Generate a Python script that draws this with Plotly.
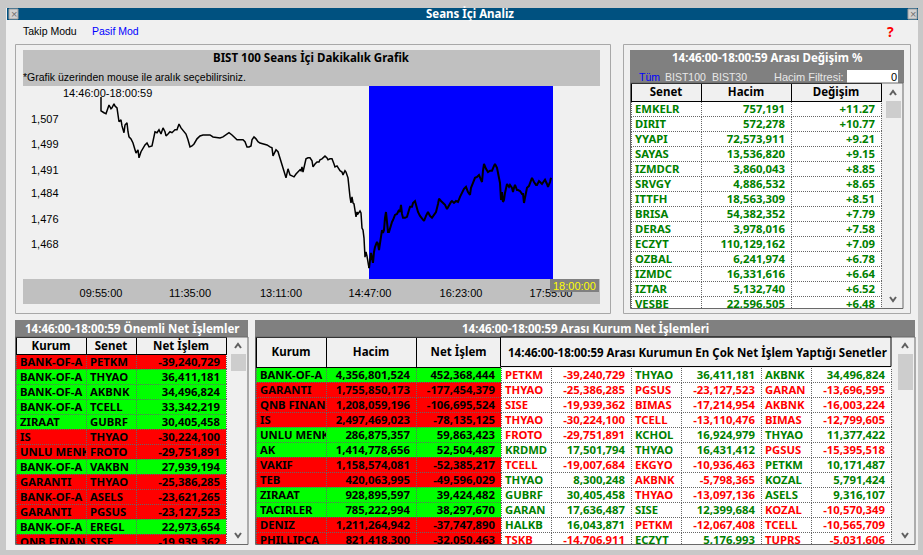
import plotly.graph_objects as go

W, H = 923, 555
SANS = "Liberation Sans"
BOLD = "Noto Sans"

# ---------- chart data ----------
bar_index = [
0,0,3,5,8,10,11,13,14,16,
18,20,21,23,24,26,27,28,30,32,
34,35,37,38,40,42,44,46,48,51,
52,54,56,58,60,62,64,65,67,69,
71,74,76,78,80,82,84,85,87,89,
91,93,96,99,102,106,109,112,116,119,
122,125,128,131,134,136,139,142,144,146,
148,150,151,153,155,157,159,162,166,169,
171,172,174,175,177,179,182,184,185,187,
189,191,193,195,197,199,200,201,202,203,
205,207,209,211,212,214,216,218,219,221,
224,226,227,229,231,233,234,236,238,239,
241,242,244,245,247,248,249,250,251,252,
253,255,256,257,259,260,261,262,263,264,
265,266,267,268,269,270,271,272,273,274,
276,277,278,279,280,281,282,283,284,285,
286,287,288,289,291,292,294,296,298,299,
300,301,302,304,306,308,309,311,312,314,
315,317,319,321,323,325,327,329,331,333,
335,337,338,340,342,344,346,348,350,351,
353,355,357,359,361,363,365,367,369,370,
372,374,376,378,380,381,382,383,385,387,
389,391,393,394,396,397,398,399,400,401,
402,403,404,405,406,408,409,411,412,413,
414,416,417,419,421,422,423,424,425,426,
428,430,431,433,435,436,438,439,441,443,
444,446,447,449,450
]
index_close = [
1513.8,1509.5,1508.9,1508.6,1511.3,1510.1,1510.4,1511.7,1511.0,1510.4,
1506.1,1506.7,1504.8,1502.7,1505.1,1505.8,1503.0,1501.4,1500.8,1499.5,
1497.4,1496.4,1497.4,1494.9,1496.8,1498.0,1498.9,1499.5,1498.3,1498.6,
1500.5,1503.0,1502.7,1503.6,1502.3,1504.2,1503.0,1501.7,1502.3,1503.0,
1502.7,1503.6,1503.6,1505.4,1504.2,1503.3,1502.7,1502.3,1500.5,1498.3,
1498.6,1499.2,1500.8,1501.7,1502.0,1502.0,1502.0,1501.4,1501.1,1501.1,
1501.4,1502.0,1502.7,1502.0,1501.1,1500.5,1500.5,1500.5,1499.9,1498.3,
1498.3,1498.6,1500.5,1501.4,1500.8,1499.9,1499.5,1499.2,1498.9,1498.3,
1498.0,1495.5,1497.1,1497.4,1496.8,1494.9,1492.1,1490.2,1488.7,1491.5,
1489.6,1489.3,1489.0,1489.9,1490.5,1491.2,1490.9,1492.1,1490.5,1491.8,
1494.6,1494.9,1494.9,1494.0,1492.1,1493.0,1493.6,1493.6,1494.3,1494.6,
1495.5,1494.9,1494.3,1494.6,1494.6,1493.0,1492.1,1492.4,1491.5,1490.9,
1490.5,1489.6,1490.9,1490.5,1488.7,1484.9,1482.8,1480.9,1482.8,1480.9,
1480.6,1476.6,1478.1,1477.5,1478.4,1477.8,1473.1,1472.5,1470.0,1464.1,
1465.7,1464.4,1462.6,1460.7,1463.8,1465.4,1463.8,1462.3,1465.7,1467.2,
1468.8,1468.2,1466.3,1468.5,1471.9,1472.5,1471.6,1472.5,1476.3,1478.1,
1475.0,1471.9,1471.9,1473.1,1475.0,1475.6,1477.2,1477.5,1478.7,1478.1,
1480.3,1477.5,1476.3,1476.3,1476.6,1478.7,1479.7,1479.7,1480.9,1481.5,
1480.3,1478.1,1476.9,1476.0,1475.3,1476.9,1478.1,1476.9,1476.3,1477.2,
1478.1,1480.6,1482.2,1481.5,1480.9,1480.3,1479.0,1480.3,1481.2,1481.5,
1480.9,1481.5,1481.2,1482.8,1484.0,1485.3,1485.9,1484.3,1483.4,1485.6,
1487.1,1488.7,1489.0,1489.6,1488.1,1487.4,1490.9,1493.0,1491.5,1490.5,
1490.9,1490.9,1492.4,1493.0,1491.8,1490.5,1489.3,1487.1,1481.8,1484.3,
1481.2,1481.8,1484.0,1485.9,1486.8,1485.9,1486.5,1485.6,1484.3,1485.6,
1486.5,1484.9,1484.9,1484.6,1483.7,1483.7,1480.9,1482.5,1484.6,1485.6,
1486.2,1488.1,1488.7,1487.4,1486.5,1486.5,1487.7,1487.4,1486.8,1487.7,
1488.1,1486.8,1485.9,1487.4,1488.7
]
assert len(bar_index) == len(index_close)

x_tick_bars = [0, 89, 180, 269, 360, 450]
x_tick_labels = ["09:55:00", "11:35:00", "13:11:00", "14:47:00", "16:23:00", "17:55:00"]
y_tick_values = [1507, 1499, 1491, 1484, 1476, 1468]
y_tick_labels = ["1,507", "1,499", "1,491", "1,484", "1,476", "1,468"]
selection_start_bar, selection_end_bar = 268, 452

# ---------- change table ----------
change_symbols = ["EMKELR","DIRIT","YYAPI","SAYAS","IZMDCR","SRVGY","ITTFH","BRISA","DERAS","ECZYT","OZBAL","IZMDC","IZTAR","VESBE"]
change_volumes = [757191,572278,72573911,13536820,3860043,4886532,18563309,54382352,3978016,110129162,6241974,16331616,5132740,22596505]
change_percents = [11.27,10.77,9.21,9.15,8.85,8.65,8.51,7.79,7.58,7.09,6.78,6.64,6.52,6.48]

# ---------- important net trades ----------
net_brokers = ["BANK-OF-A","BANK-OF-A","BANK-OF-A","BANK-OF-A","ZIRAAT","IS","UNLU MENK","BANK-OF-A","GARANTI","BANK-OF-A","GARANTI","BANK-OF-A","QNB FINAN"]
net_symbols = ["PETKM","THYAO","AKBNK","TCELL","GUBRF","THYAO","FROTO","VAKBN","THYAO","ASELS","PGSUS","EREGL","SISE"]
net_values = [-39240729,36411181,34496824,33342219,30405458,-30224100,-29751891,27939194,-25386285,-23621265,-23127523,22973654,-19939362]

# ---------- broker table ----------
broker_names = ["BANK-OF-A","GARANTI","QNB FINAN","IS","UNLU MENK","AK","VAKIF","TEB","ZIRAAT","TACIRLER","DENIZ","PHILLIPCA"]
broker_volumes = [4356801524,1755850173,1208059196,2497469023,286875357,1414778656,1158574081,420063995,928895597,785222994,1211264942,821418300]
broker_nets = [452368444,-177454379,-106695524,-78135125,59863423,52504487,-52385217,-49596029,39424482,38297670,-37747890,-32050463]
top1_symbols = ["PETKM","THYAO","SISE","THYAO","FROTO","KRDMD","TCELL","THYAO","GUBRF","GARAN","HALKB","TSKB"]
top1_values = [-39240729,-25386285,-19939362,-30224100,-29751891,17501794,-19007684,8300248,30405458,17636487,16043871,-14706911]
top2_symbols = ["THYAO","PGSUS","BIMAS","TCELL","KCHOL","THYAO","EKGYO","AKBNK","THYAO","SISE","PETKM","ECZYT"]
top2_values = [36411181,-23127523,-17214954,-13110476,16924979,16431412,-10936463,-5798365,-13097136,12399684,-12067408,5176993]
top3_symbols = ["AKBNK","GARAN","AKBNK","BIMAS","THYAO","PGSUS","PETKM","KOZAL","ASELS","KOZAL","TCELL","TUPRS"]
top3_values = [34496824,-13696595,-16003224,-12799605,11377422,-15395518,10171487,5791424,9316107,-10570349,-10565709,-5031606]

GREEN_TEXT, RED_TEXT = "#008000", "#ff0000"
GREEN_BG, RED_BG = "#00ff00", "#ff0000"
DOT = "#666666"


def fx(x):
    return x / W


def fy(y):
    return 1 - y / H


def nb(s):
    return s.replace(" ", "\u00a0")


def num(v):
    return f"{v:,}"


def sign_text(vals):
    return [GREEN_TEXT if v >= 0 else RED_TEXT for v in vals]


def sign_bg(vals):
    return [GREEN_BG if v >= 0 else RED_BG for v in vals]


shapes, annotations = [], []


def rect(x0, y0, x1, y1, fill=None, line=None, layer="below", width=1):
    shapes.append(dict(type="rect", xref="paper", yref="paper", layer=layer,
                       x0=fx(x0), x1=fx(x1), y0=fy(y1), y1=fy(y0),
                       fillcolor=fill if fill else "rgba(0,0,0,0)",
                       line=dict(color=line if line else "rgba(0,0,0,0)", width=width if line else 0)))


def label(x, y, text, color="#000", size=11, bold=False, anchor="left", family=None):
    annotations.append(dict(xref="paper", yref="paper", x=fx(x), y=fy(y), text=text, showarrow=False,
                            xanchor=anchor, yanchor="middle", borderpad=0, borderwidth=0,
                            font=dict(family=family or (BOLD if bold else SANS), size=size, color=color,
                                      weight="bold" if bold else "normal")))


def chevron(x, y, up=True):
    d = -2 if up else 2
    path = (f"M {fx(x-3)} {fy(y-d)} L {fx(x)} {fy(y+d)} L {fx(x+3)} {fy(y-d)}")
    shapes.append(dict(type="path", xref="paper", yref="paper", path=path, layer="above",
                       line=dict(color="#606060", width=2)))


# window chrome
rect(6, 8, 918, 550, "#f0f0f0")
rect(7, 8, 918, 20, "#005180")
rect(9, 9, 18, 19, "#d0d0d0", "#a0a0a0")
rect(908, 9, 917, 19, "#d0d0d0", "#a0a0a0")
label(13.5, 14, "×", "#707070", 11, anchor="center")
label(912.5, 14, "×", "#707070", 11, anchor="center")
label(470, 14, "Seans İçi Analiz", "#ffffff", 11.5, True, "center")
label(23, 31, "Takip Modu", "#000", 10.5)
label(92, 31, "Pasif Mod", "#0000ff", 10.5)
label(890, 32, "?", "#ff0000", 14, True, "center")

# chart panel
rect(15.5, 44.5, 610.5, 313.5, None, "#a8a8a8")
rect(23, 50, 600, 86, "#c0c0c0")
rect(23, 279, 600, 304, "#c0c0c0")
label(311, 57, "BIST 100 Seans İçi Dakikalık Grafik", "#000", 11.5, True, "center")
label(23, 77, "*Grafik üzerinden mouse ile aralık seçebilirsiniz.", "#000", 10.5)
label(63, 93, "14:46:00-18:00:59", "#000", 11)
rect(550, 279, 599, 292, "#808080", layer="above")
label(574.5, 285.5, "18:00:00", "#ffff00", 11, anchor="center")

# right top panel
rect(623.5, 44.5, 910.5, 313.5, None, "#a8a8a8")
rect(630, 50, 904, 83, "#808080")
label(767, 57, "14:46:00-18:00:59 Arası Değişim %", "#ffffff", 11.5, True, "center")
label(639, 77, "Tüm", "#0000ff", 10.5)
label(665, 77, "BIST100", "#e8e8e8", 10.5)
label(712, 77, "BIST30", "#e8e8e8", 10.5)
label(774, 77, "Hacim Filtresi:", "#e8e8e8", 11)
rect(847, 70, 898, 83, "#ffffff")
label(897, 77, "0", "#000", 11, anchor="right")

# bottom panels
rect(15, 320, 248, 337, "#808080")
label(132, 328, "14:46:00-18:00:59 Önemli Net İşlemler", "#ffffff", 11.5, True, "center")
rect(255, 320, 915, 337, "#808080")
label(585, 328, "14:46:00-18:00:59 Arası Kurum Net İşlemleri", "#ffffff", 11.5, True, "center")

# scrollbars
rect(881, 83, 902, 308, "#f0f0f0")
rect(886, 101, 901, 118, "#cdcdcd", layer="above")
chevron(893, 93, True)
chevron(893, 299, False)
rect(226, 337, 248, 544, "#f0f0f0")
rect(231, 354, 246, 371, "#cdcdcd", layer="above")
chevron(238, 346, True)
chevron(238, 535, False)
rect(891, 337, 915, 544, "#f0f0f0")
rect(898, 354, 913, 390, "#cdcdcd", layer="above")
chevron(905, 346, True)
chevron(905, 535, False)

# covers that clip the last rows, then outer frames
rect(631, 308.5, 903, 312.5, "#f0f0f0", layer="above")
rect(15, 544.5, 248, 549.5, "#f0f0f0", layer="above")
rect(255, 544.5, 915, 549.5, "#f0f0f0", layer="above")
rect(630.5, 83, 903, 308.5, None, "#696969", "above")
rect(15.5, 337, 248, 544.5, None, "#696969", "above")
rect(255.5, 337, 915, 544.5, None, "#696969", "above")
rect(500.5, 337, 891, 366.5, None, "#000000", "above")
label(697, 352, "14:46:00-18:00:59 Arası Kurumun En Çok Net İşlem Yaptığı Senetler", "#000", 11.5, True, "center")

# selection band via data axis
shapes.append(dict(type="rect", xref="x", yref="y domain", layer="below",
                   x0=selection_start_bar, x1=selection_end_bar, y0=0, y1=1,
                   fillcolor="#0000ff", line=dict(width=0)))

fig = go.Figure()
split = next(i for i, b in enumerate(bar_index) if b >= selection_start_bar)
fig.add_trace(go.Scatter(x=bar_index[:split + 1], y=index_close[:split + 1], mode="lines",
                         line=dict(color="#000", width=1.5), hoverinfo="skip", showlegend=False))
fig.add_trace(go.Scatter(x=bar_index[split:], y=index_close[split:], mode="lines",
                         line=dict(color="#000", width=2), hoverinfo="skip", showlegend=False))


def table(x0, x1, y0, y1, widths, headers, header_h, columns, aligns, font_colors, fills, header_line):
    fig.add_trace(go.Table(
        domain=dict(x=[fx(x0), fx(x1)], y=[fy(y1), fy(y0)]),
        columnwidth=widths,
        header=dict(values=headers, height=header_h, align="center",
                    fill_color="#f0f0f0", line=dict(color=header_line, width=1),
                    font=dict(family=BOLD, size=11.5, color="#000", weight="bold")),
        cells=dict(values=columns, height=15, align=aligns, fill_color=fills,
                   line=dict(color=DOT, width=1),
                   font=dict(family=BOLD, size=11.3, color=font_colors, weight="bold"))))


table(631, 881, 83, 312, [70, 90, 90],
      ["Senet", "Hacim", "Değişim"], 18,
      [change_symbols, [num(v) for v in change_volumes], [f"{v:+.2f}" for v in change_percents]],
      ["left", "right", "right"], GREEN_TEXT, "#ffffff", "#000000")

bg = sign_bg(net_values)
table(16, 226, 337, 550, [70, 50, 90],
      ["Kurum", "Senet", "Net\u00a0İşlem"], 17,
      [[nb(s) for s in net_brokers], net_symbols, [num(v) for v in net_values]],
      ["left", "left", "right"], "#000000", [bg, bg, bg], "#000000")

bg = sign_bg(broker_nets)
white = ["#ffffff"] * len(broker_names)
black = ["#000000"] * len(broker_names)
table(256, 891, 337, 548, [70, 90, 85, 50, 80, 50, 80, 50, 80],
      ["Kurum", "Hacim", "Net\u00a0İşlem", "", "", "", "", "", ""], 30,
      [[nb(s) for s in broker_names], [num(v) for v in broker_volumes], [num(v) for v in broker_nets],
       top1_symbols, [num(v) for v in top1_values],
       top2_symbols, [num(v) for v in top2_values],
       top3_symbols, [num(v) for v in top3_values]],
      ["left", "right", "right", "left", "right", "left", "right", "left", "right"],
      [black, black, black,
       sign_text(top1_values), sign_text(top1_values),
       sign_text(top2_values), sign_text(top2_values),
       sign_text(top3_values), sign_text(top3_values)],
      [bg, bg, bg, white, white, white, white, white, white],
      ["#000000", "#000000", "#000000", "#f0f0f0", "#f0f0f0", "#f0f0f0", "#f0f0f0", "#f0f0f0", "#f0f0f0"])

fig.update_layout(
    width=W, height=H, autosize=False,
    margin=dict(l=0, r=0, t=0, b=0, pad=0),
    paper_bgcolor="#c8c8c8", plot_bgcolor="#ffffff",
    showlegend=False, shapes=shapes, annotations=annotations,
    xaxis=dict(domain=[fx(23), fx(600)], range=[-78, 499], tickmode="array",
               tickvals=x_tick_bars, ticktext=x_tick_labels, showgrid=False, zeroline=False,
               showline=False, ticks="", ticklabelstandoff=6, fixedrange=True,
               tickfont=dict(family=SANS, size=11, color="#000")),
    yaxis=dict(domain=[fy(279), fy(86)], range=[1457.3, 1517.2], tickmode="array",
               tickvals=y_tick_values, ticktext=y_tick_labels, showgrid=False, zeroline=False,
               showline=False, ticks="", ticklabelposition="inside", ticklabelstandoff=5, fixedrange=True,
               tickfont=dict(family=SANS, size=11, color="#000")),
)

T1 = ".table:not(.table ~ .table)"
T2 = ".table ~ .table:not(.table ~ .table ~ .table)"
T3 = ".table ~ .table ~ .table"
rules = [
    "g[id^=cells] .cell-text{transform:translate(-4px,-4.5px)}",
    "g[id^=cells] .cell-rect{stroke-dasharray:1 1}",
    "g[id=header] .cell-text{transform:translate(0,-3.5px)}",
    T3 + " g[id=header] .cell-text{transform:translate(0,2px)}",
]
for tbl, cols in ((T1, (2, 3)), (T2, (3,)), (T3, (2, 3, 5, 7, 9))):
    for k in cols:
        rules.append(f"{tbl} .y-column:nth-of-type({k + 1}) g[id^=cells] .cell-text{{transform:translate(2px,-4.5px)}}")
css = " ".join(rules)
post = ("document.body.style.margin='0';document.body.style.overflow='hidden';"
        "var s=document.createElement('style');s.textContent=" + repr(css) + ";"
        "document.head.appendChild(s);")
fig.write_html("out.html", config={"displayModeBar": False}, post_script=post)
